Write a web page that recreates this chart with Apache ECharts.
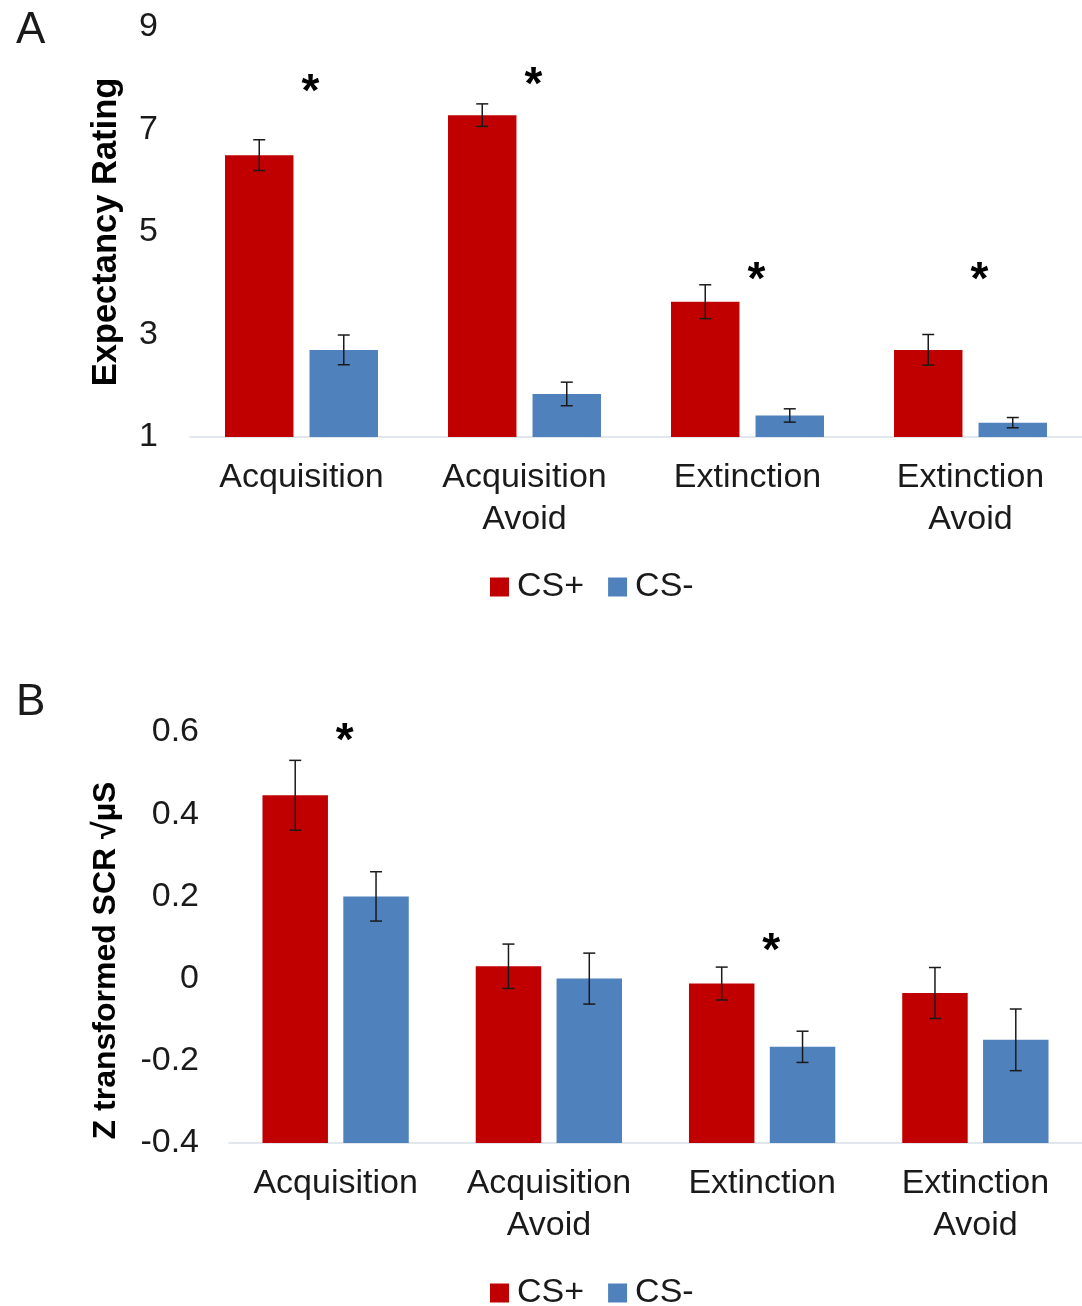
<!DOCTYPE html>
<html>
<head>
<meta charset="utf-8">
<script src="https://cdn.jsdelivr.net/npm/echarts@6/dist/echarts.min.js"></script>
<style>
  html, body { margin: 0; padding: 0; background: #fff; }
  #chart { width: 1082px; height: 1306px; }
</style>
</head>
<body>
<div id="chart"></div>
<script>
// categories shared by both panels
const categories = ['Acquisition', 'Acquisition\nAvoid', 'Extinction', 'Extinction\nAvoid'];

// Panel A - expectancy rating
const expCsPlus = [6.50, 7.28, 3.64, 2.70];
const expCsPlusErr = [0.30, 0.22, 0.33, 0.30];
const expCsMinus = [2.70, 1.84, 1.42, 1.28];
const expCsMinusErr = [0.29, 0.23, 0.13, 0.10];
const expStars = [7.89, 8.02, 4.22, 4.22];

// Panel B - Z transformed SCR
const scrCsPlus = [0.446, 0.030, -0.012, -0.035];
const scrCsPlusErr = [0.085, 0.054, 0.040, 0.062];
const scrCsMinus = [0.200, 0.000, -0.166, -0.149];
const scrCsMinusErr = [0.060, 0.062, 0.038, 0.075];
const scrStars = [0.598, null, 0.087, null];

const RED = '#C00000';
const BLUE = '#4F81BD';
const FONT = 'Liberation Sans, Arial, sans-serif';
const TEXT = '#1a1a1a';

// bars drawn from the axis minimum (Excel style), with error bars
const barRenderer = (side, yMin) => (params, api) => {
  const cat = api.value(0);
  const val = api.value(1);
  const err = api.value(2);
  const band = api.size([1, 0])[0];
  const bw = band * 0.307;
  const gap = band * 0.072;
  const cx = api.coord([cat, val])[0] + side * (gap + bw) / 2;
  const top = api.coord([cat, val])[1];
  const base = api.coord([cat, yMin])[1];
  const hi = api.coord([cat, val + err])[1];
  const lo = api.coord([cat, val - err])[1];
  const cap = 6;
  const eb = { stroke: '#1a1a1a', lineWidth: 1.5 };
  return {
    type: 'group',
    children: [
      { type: 'rect', shape: { x: cx - bw / 2, y: top, width: bw, height: base - top }, style: { fill: api.visual('color') } },
      { type: 'line', shape: { x1: cx, y1: hi, x2: cx, y2: lo }, style: eb },
      { type: 'line', shape: { x1: cx - cap, y1: hi, x2: cx + cap, y2: hi }, style: eb },
      { type: 'line', shape: { x1: cx - cap, y1: lo, x2: cx + cap, y2: lo }, style: eb },
    ],
  };
};

const starRenderer = (params, api) => {
  const pt = api.coord([api.value(0), api.value(1)]);
  return {
    type: 'text',
    x: pt[0] + 9,
    y: pt[1] + 9,
    style: {
      text: '*',
      fontSize: 46,
      fontWeight: 'bold',
      fontFamily: FONT,
      fill: '#000',
      align: 'center',
      verticalAlign: 'middle',
    },
  };
};

const toData = (vals, errs) => vals.map((v, i) => [i, v, errs[i]]);
const toStars = (vals) => vals.map((v, i) => [i, v]).filter((d) => d[1] != null);

const catAxis = (gridIndex) => ({
  type: 'category',
  gridIndex,
  data: categories,
  axisLine: { onZero: false, lineStyle: { color: '#D9DEE8', width: 1.5 } },
  axisTick: { show: false },
  axisLabel: { interval: 0, color: TEXT, fontSize: 34, fontFamily: FONT, lineHeight: 42, margin: 20 },
});

const legendAt = (top) => ({
  data: ['CS+', 'CS-'],
  left: 490,
  top,
  padding: 0,
  icon: 'rect',
  itemWidth: 19,
  itemHeight: 19,
  itemGap: 24,
  selectedMode: false,
  textStyle: { fontSize: 34, fontFamily: FONT, color: TEXT, padding: [0, 0, 0, 3] },
});

const option = {
  backgroundColor: '#fff',
  animation: false,
  title: [
    { text: 'A', left: 16, top: 9, padding: 0, textStyle: { fontSize: 44, fontWeight: 'normal', fontFamily: FONT, color: TEXT } },
    { text: 'B', left: 16, top: 681, padding: 0, textStyle: { fontSize: 44, fontWeight: 'normal', fontFamily: FONT, color: TEXT } },
  ],
  legend: [legendAt(570), legendAt(1276)],
  grid: [
    { left: 190, top: 27, width: 900, height: 410 },
    { left: 229, top: 732, width: 860, height: 411 },
  ],
  xAxis: [catAxis(0), catAxis(1)],
  yAxis: [
    {
      type: 'value',
      gridIndex: 0,
      min: 1,
      max: 9,
      interval: 2,
      splitLine: { show: false },
      axisLine: { show: false },
      axisTick: { show: false },
      axisLabel: { color: TEXT, fontSize: 34, fontFamily: FONT, margin: 32 },
      name: 'Expectancy Rating',
      nameLocation: 'middle',
      nameGap: 66,
      nameTextStyle: { fontSize: 34.5, fontWeight: 'bold', fontFamily: FONT, color: '#000' },
    },
    {
      type: 'value',
      gridIndex: 1,
      min: -0.4,
      max: 0.6,
      interval: 0.2,
      splitLine: { show: false },
      axisLine: { show: false },
      axisTick: { show: false },
      axisLabel: {
        color: TEXT,
        fontSize: 34,
        fontFamily: FONT,
        margin: 30,
        formatter: (v) => String(+v.toFixed(1)),
      },
      name: 'Z transformed SCR \u221A\u00B5S',
      nameLocation: 'middle',
      nameGap: 107,
      nameTextStyle: { fontSize: 32, fontWeight: 'bold', fontFamily: FONT, color: '#000', padding: [0, 46, 0, 0] },
    },
  ],
  series: [
    { type: 'custom', name: 'CS+', xAxisIndex: 0, yAxisIndex: 0, itemStyle: { color: RED }, renderItem: barRenderer(-1, 1), encode: { x: 0, y: 1 }, data: toData(expCsPlus, expCsPlusErr) },
    { type: 'custom', name: 'CS-', xAxisIndex: 0, yAxisIndex: 0, itemStyle: { color: BLUE }, renderItem: barRenderer(1, 1), encode: { x: 0, y: 1 }, data: toData(expCsMinus, expCsMinusErr) },
    { type: 'custom', xAxisIndex: 0, yAxisIndex: 0, renderItem: starRenderer, encode: { x: 0, y: 1 }, data: toStars(expStars) },
    { type: 'custom', name: 'CS+', xAxisIndex: 1, yAxisIndex: 1, itemStyle: { color: RED }, renderItem: barRenderer(-1, -0.4), encode: { x: 0, y: 1 }, data: toData(scrCsPlus, scrCsPlusErr) },
    { type: 'custom', name: 'CS-', xAxisIndex: 1, yAxisIndex: 1, itemStyle: { color: BLUE }, renderItem: barRenderer(1, -0.4), encode: { x: 0, y: 1 }, data: toData(scrCsMinus, scrCsMinusErr) },
    { type: 'custom', xAxisIndex: 1, yAxisIndex: 1, renderItem: starRenderer, encode: { x: 0, y: 1 }, data: toStars(scrStars) },
  ],
};

const chart = echarts.init(document.getElementById('chart'));
chart.setOption(option);
window.addEventListener('resize', () => chart.resize());
</script>
</body>
</html>
